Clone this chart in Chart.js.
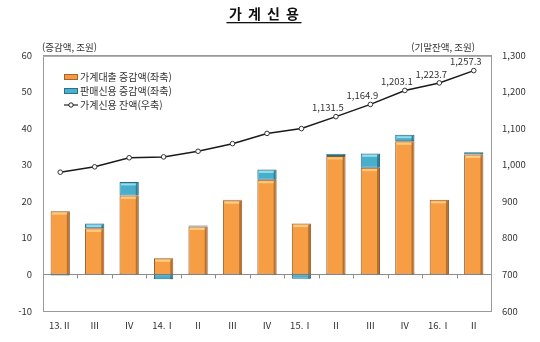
<!DOCTYPE html>
<html lang="ko">
<head>
<meta charset="utf-8">
<title>가계신용</title>
<script src="https://cdn.jsdelivr.net/npm/chart.js@4.4.1/dist/chart.umd.min.js"></script>
<style>
  html, body { margin: 0; padding: 0; background: #ffffff; }
  #wrap { width: 540px; height: 342px; position: relative; }
</style>
</head>
<body>
<div id="wrap"><canvas id="c" width="540" height="342"></canvas></div>
<script>
// Quarters
const quarters = ['13.Ⅱ', 'Ⅲ', 'Ⅳ', '14.Ⅰ', 'Ⅱ', 'Ⅲ', 'Ⅳ', '15.Ⅰ', 'Ⅱ', 'Ⅲ', 'Ⅳ', '16.Ⅰ', 'Ⅱ'];
// Change in household loans (trillion won, left axis)
const loanChange = [17.3, 12.6, 21.6, 4.4, 13.1, 20.3, 25.9, 13.9, 32.4, 29.2, 36.4, 20.4, 32.8];
// Change in sales credit (trillion won, left axis)
const salesCreditChange = [-0.3, 1.3, 3.7, -1.3, 0.3, 0.1, 2.8, -1.2, 0.6, 3.9, 1.8, 0.0, 0.6];
// Household credit outstanding, end of period (trillion won, right axis)
const creditBalance = [979.6, 994.2, 1019.0, 1021.4, 1036.8, 1057.6, 1085.6, 1098.8, 1131.5, 1164.9, 1203.1, 1223.7, 1257.3];
// Balances that carry a value label
const labeledFrom = 8;
// Axis ticks
const leftTicks = [-10, 0, 10, 20, 30, 40, 50, 60];
const rightTicks = [600, 700, 800, 900, 1000, 1100, 1200, 1300];

const FONT = '"Noto Sans CJK KR", "Noto Sans", sans-serif';
const TEXT = '#333333';

const fmt = v => v.toLocaleString('en-US', { minimumFractionDigits: 1, maximumFractionDigits: 1 });

// Extra drawing: title, unit captions, frame, zero line, legend, balance labels
const decor = {
  id: 'decor',
  beforeDatasetsDraw(chart) {
    const { ctx, chartArea: a, scales } = chart;
    ctx.save();
    // zero line with category ticks
    const y0 = Math.round(scales.y.getPixelForValue(0)) + 0.5;
    ctx.strokeStyle = '#8c8c8c';
    ctx.lineWidth = 1;
    ctx.beginPath();
    ctx.moveTo(a.left, y0); ctx.lineTo(a.right, y0);
    const n = quarters.length;
    const w = (a.right - a.left) / n;
    for (let i = 1; i < n; i++) {
      const x = Math.round(a.left + w * i) + 0.5;
      ctx.moveTo(x, y0); ctx.lineTo(x, y0 + 4);
    }
    ctx.stroke();
    ctx.restore();
  },
  afterDraw(chart) {
    const { ctx, chartArea: a } = chart;
    ctx.save();
    // frame
    ctx.strokeStyle = '#9a9a9a';
    ctx.lineWidth = 1;
    ctx.strokeRect(a.left + 0.5, a.top + 0.5, a.right - a.left, a.bottom - a.top);
    ctx.strokeStyle = '#b0b0b0';
    ctx.beginPath();
    ctx.moveTo(a.left, a.top + 1.5); ctx.lineTo(a.right, a.top + 1.5);
    ctx.stroke();

    // title, spaced-out letters with underline
    ctx.fillStyle = '#111111';
    ctx.font = 'bold 14px ' + FONT;
    ctx.textAlign = 'center';
    ctx.textBaseline = 'middle';
    const chars = ['가', '계', '신', '용'];
    const step = 19;
    const cx0 = 264 - step * 1.5;
    chars.forEach((ch, i) => ctx.fillText(ch, cx0 + step * i, 14));
    ctx.fillRect(cx0 - 9, 22, step * 3 + 18, 1.3);

    // unit captions
    ctx.font = '9.5px ' + FONT;
    ctx.fillStyle = TEXT;
    ctx.textAlign = 'left';
    ctx.fillText('(증감액, 조원)', 42, 47);
    ctx.textAlign = 'right';
    ctx.fillText('(기말잔액, 조원)', 475, 47);

    // legend
    ctx.textAlign = 'left';
    ctx.font = '10px ' + FONT;
    const lx = 64;
    const rows = [77, 91, 105];
    const drawBox = (y, fill, edge) => {
      ctx.fillStyle = fill;
      ctx.fillRect(lx, y - 3, 14, 6);
      ctx.strokeStyle = edge;
      ctx.lineWidth = 1;
      ctx.strokeRect(lx + 0.5, y - 2.5, 13, 5);
    };
    drawBox(rows[0], '#f59a3e', '#a4652c');
    drawBox(rows[1], '#49b1cf', '#2c7286');
    ctx.strokeStyle = '#222222';
    ctx.lineWidth = 1.2;
    ctx.beginPath();
    ctx.moveTo(lx, rows[2]); ctx.lineTo(lx + 14, rows[2]);
    ctx.stroke();
    ctx.beginPath();
    ctx.arc(lx + 7, rows[2], 2.2, 0, Math.PI * 2);
    ctx.fillStyle = '#ffffff';
    ctx.fill();
    ctx.lineWidth = 1;
    ctx.stroke();
    ctx.fillStyle = TEXT;
    ctx.fillText('가계대출 증감액(좌축)', lx + 16, rows[0]);
    ctx.fillText('판매신용 증감액(좌축)', lx + 16, rows[1]);
    ctx.fillText('가계신용 잔액(우축)', lx + 16, rows[2]);

    // balance value labels
    const meta = chart.getDatasetMeta(2);
    ctx.font = '9.5px ' + FONT;
    ctx.textAlign = 'center';
    ctx.textBaseline = 'bottom';
    ctx.fillStyle = TEXT;
    for (let i = labeledFrom; i < creditBalance.length; i++) {
      const p = meta.data[i];
      ctx.fillText(fmt(creditBalance[i]), p.x - 8, p.y - 4);
    }
    ctx.restore();
  }
};

// Bar shading: light cap on top, dark edge on the right
const barShade = {
  id: 'barShade',
  afterDatasetsDraw(chart) {
    const { ctx } = chart;
    ctx.save();
    [0, 1].forEach(di => {
      const meta = chart.getDatasetMeta(di);
      const vals = chart.data.datasets[di].data;
      const cap = di === 0 ? 'rgba(255,215,140,0.8)' : 'rgba(170,230,245,0.8)';
      meta.data.forEach((bar, i) => {
        const v = vals[i];
        if (!v) return;
        const left = bar.x - bar.width / 2;
        const top = Math.min(bar.y, bar.base);
        const h = Math.abs(bar.base - bar.y);
        if (h < 1) return;
        if (v > 0 && h > 3) {
          ctx.fillStyle = cap;
          ctx.fillRect(left + 1.5, top + 1.5, bar.width - 4, 2);
        }
        ctx.fillStyle = di === 0 ? 'rgba(120,70,25,0.5)' : 'rgba(30,80,95,0.5)';
        ctx.fillRect(left + bar.width - 3, top + 1, 2, h - 1);
      });
    });
    ctx.restore();
  }
};

new Chart(document.getElementById('c'), {
  data: {
    labels: quarters,
    datasets: [
      {
        type: 'bar',
        label: '가계대출 증감액(좌축)',
        data: loanChange,
        yAxisID: 'y',
        stack: 's',
        backgroundColor: '#f79d44',
        borderColor: '#8f5a2a',
        borderWidth: 1,
        borderSkipped: false,
        barPercentage: 0.56,
        categoryPercentage: 1.0,
        order: 2
      },
      {
        type: 'bar',
        label: '판매신용 증감액(좌축)',
        data: salesCreditChange,
        yAxisID: 'y',
        stack: 's',
        backgroundColor: '#47aecb',
        borderColor: '#2a6c7f',
        borderWidth: 1,
        borderSkipped: false,
        barPercentage: 0.56,
        categoryPercentage: 1.0,
        order: 2
      },
      {
        type: 'line',
        label: '가계신용 잔액(우축)',
        data: creditBalance,
        yAxisID: 'y1',
        borderColor: '#1a1a1a',
        borderWidth: 1.5,
        pointRadius: 2.3,
        pointBackgroundColor: '#ffffff',
        pointBorderColor: '#333333',
        pointBorderWidth: 1,
        tension: 0,
        order: 1
      }
    ]
  },
  options: {
    responsive: false,
    animation: false,
    events: [],
    layout: { padding: { top: 55, left: 0, right: 0, bottom: 0 } },
    plugins: {
      legend: { display: false },
      title: { display: false },
      tooltip: { enabled: false }
    },
    scales: {
      x: {
        stacked: true,
        grid: { display: false, drawTicks: false },
        border: { display: false },
        ticks: { color: TEXT, font: { family: FONT, size: 9.5 }, padding: 9, maxRotation: 0, autoSkip: false },
        afterFit(s) { s.height = 31; }
      },
      y: {
        position: 'left',
        stacked: true,
        min: -10,
        max: 60,
        afterBuildTicks(s) { s.ticks = leftTicks.map(v => ({ value: v })); },
        grid: { display: false, drawTicks: false },
        border: { display: false },
        ticks: { color: TEXT, font: { family: FONT, size: 9.5 }, padding: 11 },
        afterFit(s) { s.width = 43; }
      },
      y1: {
        position: 'right',
        min: 600,
        max: 1300,
        afterBuildTicks(s) { s.ticks = rightTicks.map(v => ({ value: v })); },
        grid: { display: false, drawTicks: false },
        border: { display: false },
        ticks: {
          color: TEXT,
          font: { family: FONT, size: 9.5 },
          padding: 11,
          callback: v => v.toLocaleString('en-US')
        },
        afterFit(s) { s.width = 49; }
      }
    }
  },
  plugins: [decor, barShade]
});
</script>
</body>
</html>
